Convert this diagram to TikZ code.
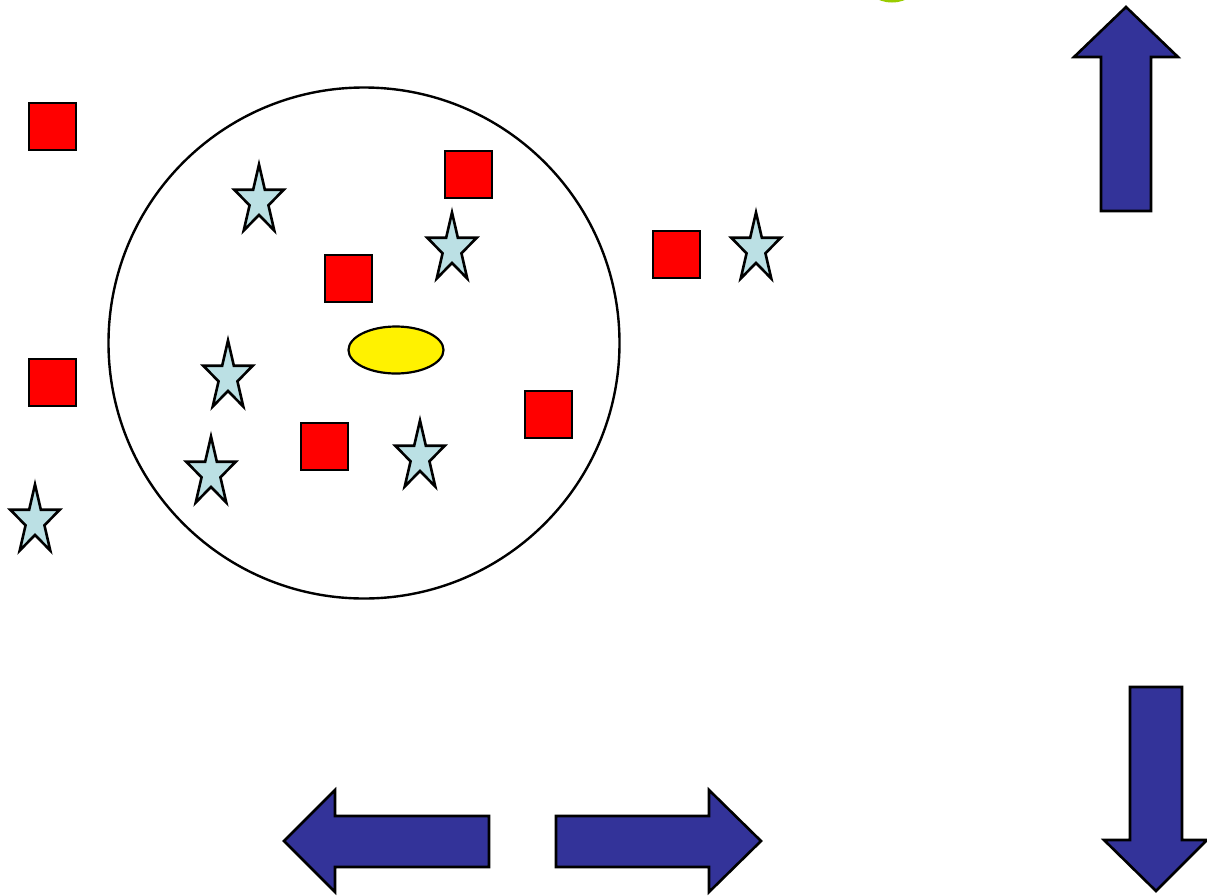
\documentclass[tikz,border=0pt]{standalone}
\usetikzlibrary{shapes.geometric}
\definecolor{starblue}{RGB}{187,224,228}
\definecolor{arrowblue}{RGB}{51,51,153}
\definecolor{limegreen}{RGB}{153,204,0}
\tikzset{
  redsq/.style={draw=black, line width=2pt, fill=red, minimum size=47pt, inner sep=0pt, rectangle},
  fatarrow/.style={draw=black, line width=2.6pt, fill=arrowblue, line join=miter},
  starline/.style={draw=black, line width=2.6pt, fill=starblue, line join=miter},
  bluestar/.pic={\path[starline,x=26pt,y=36.5pt] (90:1) -- (126:0.382) -- (162:1) -- (198:0.382) -- (234:1) -- (270:0.382) -- (306:1) -- (342:0.382) -- (18:1) -- (54:0.382) -- cycle;}
}
\begin{document}
\begin{tikzpicture}[x=1pt,y=-1pt]
\clip (0,0) rectangle (1207,895);
\fill[white] (0,0) rectangle (1207,895);
% green shape cut off at top
\fill[limegreen] (892,-20) ellipse [x radius=28, y radius=22.5];
% big circle
\node[draw=black, line width=2.4pt, circle, minimum size=511pt, inner sep=0pt] (ring) at (364,343) {};
% yellow ellipse
\node[draw=black, line width=2.2pt, ellipse, fill=yellow, minimum width=95pt, minimum height=47pt, inner sep=0pt] (core) at (396,350) {};
% red squares
\node[redsq] (s1) at (52,126) {};
\node[redsq] (s2) at (468,174) {};
\node[redsq] (s3) at (348,278) {};
\node[redsq] (s4) at (676,254) {};
\node[redsq] (s5) at (52,382) {};
\node[redsq] (s6) at (548,414) {};
\node[redsq] (s7) at (324,446) {};
% stars
\pic (t1) at (259,201) {bluestar};
\pic (t2) at (452,249) {bluestar};
\pic (t3) at (756,249) {bluestar};
\pic (t4) at (228,377) {bluestar};
\pic (t5) at (211,473) {bluestar};
\pic (t6) at (420,457) {bluestar};
\pic (t7) at (35,521) {bluestar};
% arrows
\path[fatarrow] (1126,7) -- (1178,57) -- (1151,57) -- (1151,211) -- (1101,211) -- (1101,57) -- (1074,57) -- cycle;
\path[fatarrow] (1156,891) -- (1207,840) -- (1182,840) -- (1182,687) -- (1130,687) -- (1130,840) -- (1104,840) -- cycle;
\path[fatarrow] (284,841) -- (335,790) -- (335,816) -- (489,816) -- (489,867) -- (335,867) -- (335,892) -- cycle;
\path[fatarrow] (761,841) -- (709,790) -- (709,816) -- (556,816) -- (556,867) -- (709,867) -- (709,892) -- cycle;
\end{tikzpicture}
\end{document}
